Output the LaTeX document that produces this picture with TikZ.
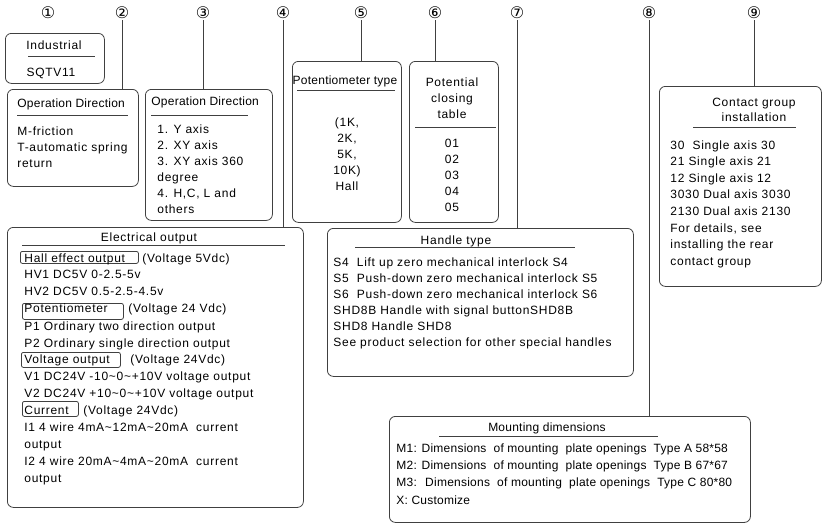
\documentclass[tikz,border=0pt]{standalone}
\usepackage{fontspec}
\setmainfont[LetterSpace=6]{Liberation Sans}
\newfontfamily\tightfont[LetterSpace=2]{Liberation Sans}
\newfontfamily\circfont{DejaVu Sans}
\usetikzlibrary{positioning}

\begin{document}
\begin{tikzpicture}[x=1pt,y=-1pt,line width=0.8pt]
    \tikzstyle{frame} = [draw=black!75,rounded corners=6pt,anchor=north west,inner sep=0pt]
    \tikzstyle{num} = [font=\circfont\fontsize{16}{16}\selectfont,inner sep=1pt]
    \tikzstyle{lbl} = [font=\fontsize{12}{16}\selectfont,inner sep=0pt,align=left,anchor=base west]
    \tikzstyle{head} = [font=\fontsize{12}{16}\selectfont,inner sep=0pt,align=center,anchor=base]
    \tikzstyle{tagbox} = [draw=black!75,rounded corners=2pt,inner sep=0pt,anchor=north west]
    \tikzstyle{rule} = [draw=black!75]

    \useasboundingbox (0,0) rectangle (826,528);

    % circled numbers
    \path   (48,13) node[num] (n1) {①}
            (122,13) node[num] (n2) {②}
            (203,13) node[num] (n3) {③}
            (283,13) node[num] (n4) {④}
            (361,13) node[num] (n5) {⑤}
            (435,13) node[num] (n6) {⑥}
            (517,13) node[num] (n7) {⑦}
            (649,13) node[num] (n8) {⑧}
            (754,13) node[num] (n9) {⑨};

    % frames
    \node[frame,minimum width=99pt,minimum height=50pt] (ind) at (5,33) {};
    \node[frame,minimum width=131pt,minimum height=97pt] (dir) at (7,89) {};
    \node[frame,minimum width=127pt,minimum height=131pt] (axis) at (145,89) {};
    \node[frame,minimum width=109pt,minimum height=161pt] (pot) at (292,61) {};
    \node[frame,minimum width=89pt,minimum height=161pt] (tbl) at (409,61) {};
    \node[frame,minimum width=296pt,minimum height=280pt] (elec) at (7,227) {};
    \node[frame,minimum width=306pt,minimum height=148pt] (hdl) at (327,228) {};
    \node[frame,minimum width=361pt,minimum height=106pt] (mnt) at (389,416) {};
    \node[frame,minimum width=162pt,minimum height=200pt] (cnt) at (659,86) {};

    % leader lines
    \draw[rule] (n2.south) -- (n2.south |- dir.north);
    \draw[rule] (n3.south) -- (n3.south |- axis.north);
    \draw[rule] (n4.south) -- (n4.south |- elec.north);
    \draw[rule] (n5.south) -- (n5.south |- pot.north);
    \draw[rule] (n6.south) -- (n6.south |- tbl.north);
    \draw[rule] (n7.south) -- (n7.south |- hdl.north);
    \draw[rule] (n8.south) -- (n8.south |- mnt.north);
    \draw[rule] (n9.south) -- (n9.south |- cnt.north);

    % 1 industrial
    \node[head] (indh) at (54,49) {Industrial};
    \draw[rule] (28,56) -- (95,56);
    \node[head] (indt) at (51,76) {SQTV11};

    % 2 operation direction
    \node[lbl,font=\tightfont\fontsize{12}{16}\selectfont] (dirh) at (17,107) {Operation Direction};
    \draw[rule] (17,115) -- (128,115);
    \node[lbl] (dirt) at (17,167) {M-friction\\T-automatic spring\\return};

    % 3 axis
    \node[lbl,font=\tightfont\fontsize{12}{16}\selectfont] (axish) at (151,105) {Operation Direction};
    \draw[rule] (151,115) -- (248,115);
    \node[lbl] (axist) at (157,213) {1. Y axis\\2. XY axis\\3. XY axis 360\\degree\\4. H,C, L and\\others};

    % 5 potentiometer
    \node[head,font=\tightfont\fontsize{12}{16}\selectfont] (poth) at (345,84) {Potentiometer type};
    \draw[rule] (297,90) -- (395,90);
    \node[head] (pott) at (347,190) {(1K,\\2K,\\5K,\\10K)\\Hall};

    % 6 closing table
    \node[head] (tblh) at (452,118) {Potential\\closing\\table};
    \draw[rule] (415,127) -- (496,127);
    \node[head] (tblt) at (452,211) {01\\02\\03\\04\\05};

    % 9 contact group
    \node[head,font=\fontsize{12}{15}\selectfont] (cnth) at (754,121) {Contact group\\installation};
    \draw[rule] (693,127) -- (796,127);
    \node[lbl,font=\fontsize{12}{16.6}\selectfont] (cntt) at (670,265.2)
        {30~ Single axis 30\\21 Single axis 21\\12 Single axis 12\\3030 Dual axis 3030\\2130 Dual axis 2130\\For details, see\\installing the rear\\contact group};

    % 4 electrical output
    \node[head] (elech) at (149,241) {Electrical output};
    \draw[rule] (22,245) -- (285,245);
    \node[tagbox,minimum width=118pt,minimum height=12pt] (tg1) at (20,251) {};
    \node[tagbox,minimum width=101pt,minimum height=16pt] (tg2) at (22,303) {};
    \node[tagbox,minimum width=99pt,minimum height=15pt] (tg3) at (21,352) {};
    \node[tagbox,minimum width=56pt,minimum height=15pt] (tg4) at (22,401) {};
    \path   (24,262) node[lbl] (e1) {Hall effect output}
            (142,262) node[lbl] (e1v) {(Voltage 5Vdc)}
            (24,278) node[lbl] (e2) {HV1 DC5V 0-2.5-5v}
            (24,295) node[lbl] (e3) {HV2 DC5V 0.5-2.5-4.5v}
            (24,312) node[lbl] (e4) {Potentiometer}
            (128,312) node[lbl] (e4v) {(Voltage 24 Vdc)}
            (24,330) node[lbl] (e5) {P1 Ordinary two direction output}
            (24,347) node[lbl] (e6) {P2 Ordinary single direction output}
            (24,363) node[lbl] (e7) {Voltage output}
            (130,363) node[lbl] (e7v) {(Voltage 24Vdc)}
            (24,380) node[lbl] (e8) {V1 DC24V -10\textasciitilde 0\textasciitilde +10V voltage output}
            (24,397) node[lbl] (e9) {V2 DC24V +10\textasciitilde 0\textasciitilde +10V voltage output}
            (24,414) node[lbl] (e10) {Current}
            (83,414) node[lbl] (e10v) {(Voltage 24Vdc)}
            (24,431) node[lbl] (e11) {I1 4 wire 4mA\textasciitilde 12mA\textasciitilde 20mA~ current}
            (24,448) node[lbl] (e12) {output}
            (24,465) node[lbl] (e13) {I2 4 wire 20mA\textasciitilde 4mA\textasciitilde 20mA~ current}
            (24,482) node[lbl] (e14) {output};

    % 7 handle type
    \node[head] (hdlh) at (456,244) {Handle type};
    \draw[rule] (355,247) -- (575,247);
    \node[lbl] (hdlt) at (333,346)
        {S4~ Lift up zero mechanical interlock S4\\S5~ Push-down zero mechanical interlock S5\\S6~ Push-down zero mechanical interlock S6\\SHD8B Handle with signal buttonSHD8B\\SHD8 Handle SHD8\\See product selection for other special handles};

    % 8 mounting
    \node[head,font=\tightfont\fontsize{12}{16}\selectfont] (mnth) at (547,431) {Mounting dimensions};
    \draw[rule] (439,436) -- (658,436);
    \node[lbl,font=\tightfont\fontsize{12}{17.4}\selectfont] (mntt) at (396,504.2)
        {M1: Dimensions~ of mounting~ plate openings~ Type A 58*58\\M2: Dimensions~ of mounting~ plate openings~ Type B 67*67\\M3:~ Dimensions~ of mounting~ plate openings~ Type C 80*80\\X: Customize};
\end{tikzpicture}
\end{document}
